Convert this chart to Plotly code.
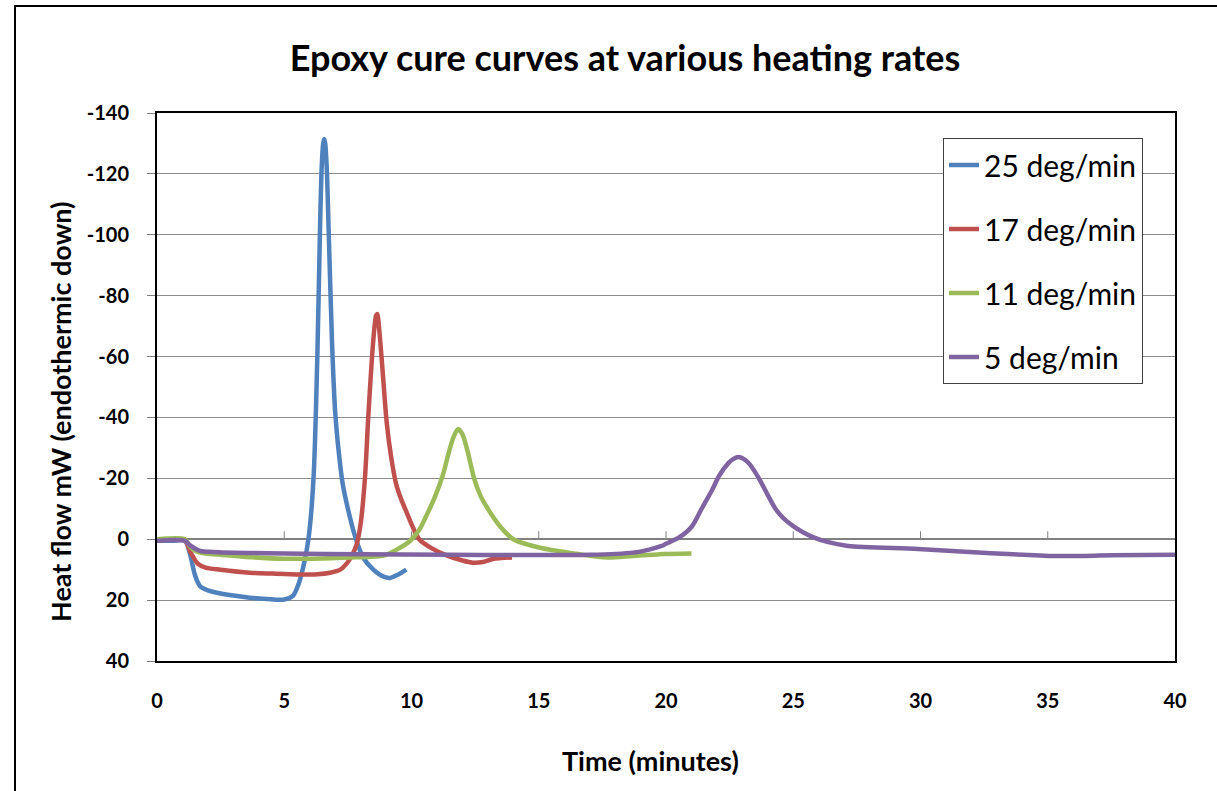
import plotly.graph_objects as go

# Heat flow traces (mW, endothermic down) versus time (minutes)
t_25 = [0, 0.6, 1.1, 1.3, 1.5, 1.7, 2.0, 2.35, 3.0, 3.65, 4.3, 5.0, 5.35, 5.55, 5.75, 5.95,
        6.15, 6.3, 6.4, 6.47, 6.53, 6.57, 6.61, 6.67, 6.75, 6.88, 7.0, 7.15, 7.3, 7.5,
        7.78, 8.1, 8.5, 8.9, 9.15, 9.5, 9.8]
hf_25 = [0.5, 0.5, 0.5, 5, 12, 15.5, 16.8, 17.6, 18.5, 19.2, 19.6, 19.8, 18.5, 15, 9, 0,
         -20, -60, -100, -122, -130, -131.5, -130, -122, -100, -64, -42, -28, -18, -10,
         -1, 6, 10, 12.3, 12.7, 11.5, 10]

t_17 = [0, 1.1, 1.3, 1.6, 1.9, 2.5, 3.65, 4.5, 5.6, 6.3, 6.8, 7.2, 7.45, 7.65, 7.85, 8.0,
        8.17, 8.3, 8.45, 8.55, 8.61, 8.66, 8.72, 8.84, 9.03, 9.2, 9.4, 9.6, 9.8, 10.05,
        10.3, 10.8, 11.4, 12.0, 12.4, 12.8, 13.2, 13.95]
hf_17 = [0.5, 0.5, 4, 8, 9.3, 10, 11, 11.3, 11.6, 11.5, 11, 10, 8, 5.5, 1.5, -5,
         -20, -40, -60, -70, -73.5, -74, -70, -58, -38, -27, -18, -13, -9, -4,
         0, 3, 5.4, 7, 7.7, 7.5, 6.5, 6]

t_11 = [0, 1.1, 1.3, 1.6, 2.0, 2.35, 3.5, 5.0, 6.5, 7.6, 8.3, 8.9, 9.4, 9.95, 10.3,
        10.6, 10.9, 11.23, 11.45, 11.65, 11.83, 12.0, 12.2, 12.46, 12.7, 13.0, 13.5,
        14.0, 15.05, 16.5, 17.7, 18.7, 19.76, 21.0]
hf_11 = [0, 0, 2.5, 4.2, 4.8, 5, 5.8, 6.4, 6.3, 6, 5.8, 5.4, 3.5, 0.5, -3,
         -8, -13.5, -21, -28, -33.5, -36.2, -34.5, -29, -20, -14.5, -10, -4,
         0, 2.8, 4.8, 6, 5.5, 4.9, 4.7]

t_5 = [0, 1.1, 1.3, 1.7, 2.2, 5.0, 8.0, 11.5, 14.0, 17.0, 18.7, 19.3, 19.8, 20.0, 20.5,
       21.0, 21.4, 21.8, 22.1, 22.45, 22.65, 22.85, 23.05, 23.3, 23.65, 24.0, 24.3, 24.6,
       25.0, 25.4, 25.8, 26.3, 27.15, 29.9, 32.6, 35.3, 37.5, 40.0]
hf_5 = [0.5, 0.5, 2, 3.8, 4.2, 4.7, 4.9, 5.1, 5.2, 5.1, 4.4, 3.5, 2.3, 1.5, -0.5,
        -4, -10, -16, -21, -25, -26.4, -27, -26.4, -24.5, -20, -14.5, -10, -7,
        -4.3, -2.2, -0.6, 0.8, 2.2, 3.2, 4.5, 5.5, 5.3, 5.1]

series_names = ["25 deg/min", "17 deg/min", "11 deg/min", "5 deg/min"]
series_colors = ["#4F81BD", "#C0504D", "#9BBB59", "#8064A2"]
series_t = [t_25, t_17, t_11, t_5]
series_hf = [hf_25, hf_17, hf_11, hf_5]

x_ticks = [0, 5, 10, 15, 20, 25, 30, 35, 40]
y_ticks = [-140, -120, -100, -80, -60, -40, -20, 0, 20, 40]
y_tick_text = ["-140", "-120", "-100", "-80", "-60", "-40", "-20", "0", "20", "40"]

FONT = "Lato"
PLOT_L, PLOT_R, PLOT_T, PLOT_B = 157, 1175, 113, 661
PW, PH = PLOT_R - PLOT_L, PLOT_B - PLOT_T


def px_x(px):
    return (px - PLOT_L) / PW


def px_y(py):
    return 1 - (py - PLOT_T) / PH


fig = go.Figure()
for name, color, tx, hy in zip(series_names, series_colors, series_t, series_hf):
    fig.add_trace(go.Scatter(
        x=tx, y=hy, name=name, mode="lines", legendgroup=name,
        line=dict(color=color, width=4.5, shape="spline", smoothing=0.8),
    ))

# small tick marks sitting on the zero line (the horizontal axis crosses at 0)
shapes = []
for xt in x_ticks[1:-1]:
    shapes.append(dict(type="line", xref="x", yref="y", x0=xt, x1=xt, y0=0, y1=-2.6,
                       line=dict(color="#7F7F7F", width=1), layer="below"))

# outer chart frame
shapes.append(dict(type="rect", xref="paper", yref="paper",
                   x0=px_x(15), x1=1.1, y0=-0.3, y1=px_y(6),
                   line=dict(color="black", width=2), fillcolor="rgba(0,0,0,0)"))

annotations = [
    dict(text="<b>Heat flow mW (endothermic down)</b>", textangle=-90,
         xref="paper", yref="paper", x=px_x(60), y=px_y(412),
         xanchor="center", yanchor="middle", showarrow=False,
         font=dict(family=FONT, size=27, color="black")),
    dict(text="<b>Time (minutes)</b>",
         xref="paper", yref="paper", x=px_x(650), y=px_y(760),
         xanchor="center", yanchor="middle", showarrow=False,
         font=dict(family=FONT, size=27, color="black")),
]

fig.update_layout(
    width=1217, height=791,
    margin=dict(l=PLOT_L, r=1217 - PLOT_R, t=PLOT_T, b=791 - PLOT_B),
    paper_bgcolor="white", plot_bgcolor="white",
    title=dict(text="<b>Epoxy cure curves at various heating rates</b>",
               x=625 / 1217, xanchor="center", y=1 - 58 / 791, yanchor="middle",
               font=dict(family=FONT, size=36, color="black")),
    xaxis=dict(
        range=[0, 40], tickvals=x_ticks, ticks="", ticklabelstandoff=21,
        showgrid=False, zeroline=False,
        showline=True, linecolor="black", linewidth=2, mirror=True,
        tickfont=dict(family=FONT, size=20, color="black", weight="bold"),
    ),
    yaxis=dict(
        range=[40, -140], tickvals=y_ticks, ticktext=y_tick_text,
        ticks="outside", ticklen=8, tickcolor="#7F7F7F", ticklabelstandoff=14,
        showgrid=True, gridcolor="#8C8C8C", gridwidth=1,
        zeroline=True, zerolinecolor="#808080", zerolinewidth=1.5,
        showline=True, linecolor="black", linewidth=2, mirror=True,
        tickfont=dict(family=FONT, size=20, color="black", weight="bold"),
    ),
    legend=dict(
        x=px_x(943), xanchor="left", y=px_y(138), yanchor="top",
        bgcolor="white", bordercolor="#404040", borderwidth=1,
        font=dict(family=FONT, size=30, color="black"),
        tracegroupgap=22, itemwidth=30,
    ),
    annotations=annotations,
    shapes=shapes,
)

fig.write_html("out.html")
